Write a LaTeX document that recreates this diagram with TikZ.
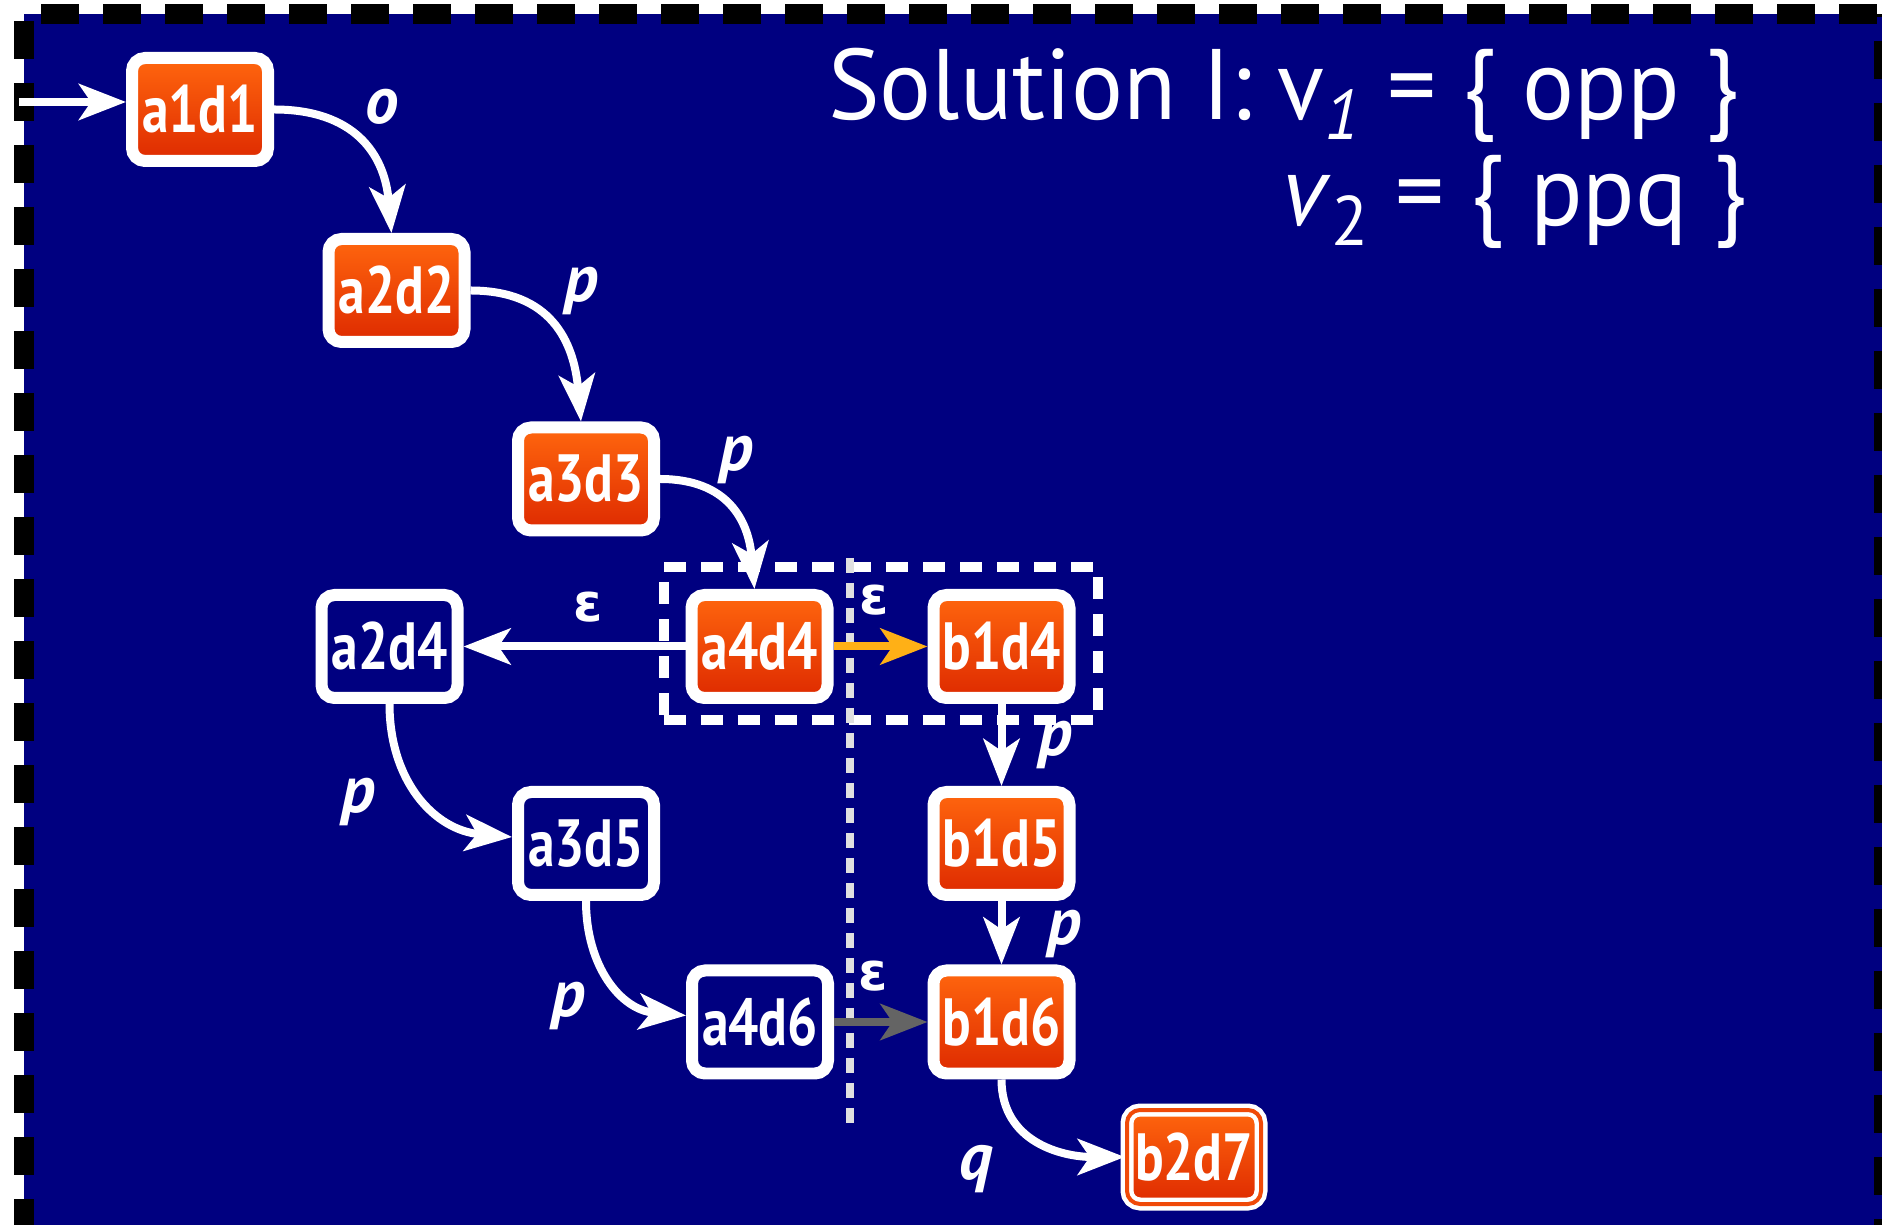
\documentclass[tikz,border=0pt]{standalone}
\usepackage{fontspec}
\setmainfont{PT Sans}
\newfontfamily\cellfamily{PT Sans}[FakeStretch=0.8]
\newfontfamily\titlefamily{PT Sans}[FakeStretch=0.97]
\newfontfamily\epsfamily{DejaVu Sans}
\usetikzlibrary{arrows.meta,fit,positioning}
\definecolor{navybg}{HTML}{000080}
\definecolor{hittop}{HTML}{FF660E}
\definecolor{hitbot}{HTML}{DE2A00}
\definecolor{hitmid}{HTML}{F04A08}
\definecolor{epsgold}{HTML}{FFB016}
\definecolor{epsgrey}{HTML}{646464}
\definecolor{cutgrey}{HTML}{E0E0E0}
\newcommand\cellfont{\cellfamily\bfseries\fontsize{19}{22}\selectfont}
\newcommand\lblfont{\bfseries\itshape\fontsize{19}{22}\selectfont}
\newcommand\epsfont{\epsfamily\bfseries\fontsize{15}{17}\selectfont}
\newcommand\titlefont{\titlefamily\fontsize{28.5}{34}\selectfont}
\tikzset{
  frameline/.style={draw=black,line width=0.2cm,dash pattern=on 0.38cm off 0.24cm},
  cell/.style={draw=white,line width=0.12cm,rounded corners=0.13cm,minimum width=1.36cm,
    minimum height=1.03cm,inner sep=0pt,font=\cellfont,text=white},
  cellhit/.style={cell,top color=hittop,bottom color=hitbot},
  cellend/.style={cellhit,double=hitmid,line width=0.045cm,double distance=0.04cm,
    minimum width=1.34cm,minimum height=0.94cm},
  flow/.style={-{Stealth[length=0.47cm,width=0.36cm,inset=0.12cm]},line width=0.08cm,draw=white},
  lbl/.style={font=\lblfont,text=white,inner sep=0pt},
  eps/.style={font=\epsfont,text=white,inner sep=0pt},
  selbox/.style={draw=white,line width=0.1cm,dash pattern=on 0.22cm off 0.15cm},
  cutline/.style={draw=cutgrey,line width=0.08cm,dash pattern=on 0.15cm off 0.10cm},
  titletext/.style={font=\titlefont,text=white,inner sep=0pt}
}
\begin{document}
\begin{tikzpicture}
  \useasboundingbox (0,0) rectangle (18.82,-12.25);
  \clip (0,0) rectangle (18.82,-12.25);
  % background and frame
  \fill[navybg] (0.24,-0.14) rectangle (19,-13);
  \draw[frameline,dash phase=0.55cm] (0.24,-0.14) -- (0.24,-12.6);
  \draw[frameline,dash phase=0.45cm] (0.24,-0.14) -- (18.84,-0.14);
  \draw[frameline,dash phase=0.35cm] (18.84,-0.14) -- (18.84,-12.6);

  \node[titletext,anchor=base east] (title1) at (17.40,-1.20) {Solution I: v\textsubscript{\itshape 1} = \{ opp \}};
  \node[titletext,anchor=base east] (title2) at (17.48,-2.26) {\textit{v}\textsubscript{2} = \{ ppq \}};

  \begin{scope}[on grid]
    \node[cellhit] (a1d1) at (2.00,-1.095) {a1d1};
    \node[cellhit,below right=1.81cm and 1.965cm of a1d1] (a2d2) {a2d2};
    \node[cellhit,below right=1.885cm and 1.895cm of a2d2] (a3d3) {a3d3};
    \node[cellhit,below right=1.675cm and 1.735cm of a3d3] (a4d4) {a4d4};
    \node[cellhit,right=2.42cm of a4d4] (b1d4) {b1d4};
    \node[cell,left=3.70cm of a4d4] (a2d4) {a2d4};
    \node[cell,below right=1.97cm and 1.965cm of a2d4] (a3d5) {a3d5};
    \node[cellhit,below=1.97cm of b1d4] (b1d5) {b1d5};
    \node[cell,below right=1.785cm and 1.74cm of a3d5] (a4d6) {a4d6};
    \node[cellhit,below=1.785cm of b1d5] (b1d6) {b1d6};
    \node[cellend,below right=1.35cm and 1.925cm of b1d6] (b2d7) {b2d7};
  \end{scope}

  % the pair in question and the cut
  \node[selbox,fit=(a4d4)(b1d4),inner xsep=0.22cm,inner ysep=0.19cm,yshift=0.03cm] (pair) {};
  \coordinate (cuttop) at (8.50,-5.58);
  \coordinate (cutbot) at (8.50,-11.24);
  \draw[cutline] (cuttop) -- (cutbot);

  % transitions
  \coordinate (init) at (0.19,-1.02);
  \draw[flow] (init) -- (init -| a1d1.west);
  \draw[flow] (a1d1) to[out=0,in=95,looseness=1.2] node[lbl,pos=0.4,anchor=south west,xshift=0.14cm,yshift=0.02cm] (lo) {o} (a2d2);
  \draw[flow] (a2d2) to[out=0,in=95,looseness=1.2] node[lbl,pos=0.4,anchor=south west,xshift=0.18cm,yshift=-0.05cm] (lp1) {p} (a3d3);
  \draw[flow] (a3d3) to[out=0,in=95,looseness=1.2] node[lbl,pos=0.4,anchor=south west,xshift=-0.06cm,yshift=0.10cm] (lp2) {p} (a4d4);
  \draw[flow] (a4d4) -- node[eps,pos=0.44,above=0.20cm] (le1) {ε} (a2d4);
  \draw[flow,draw=epsgold] (a4d4) -- node[eps,pos=0.43,above=0.27cm] (le2) {ε} (b1d4);
  \draw[flow] (b1d4) -- node[lbl,pos=0.5,right=0.33cm] (lp3) {p} (b1d5);
  \draw[flow] (b1d5) -- node[lbl,pos=0.52,right=0.42cm] (lp4) {p} (b1d6);
  \draw[flow] (a2d4) to[out=-90,in=175,looseness=1.1] node[lbl,pos=0.4,left=0.31cm,yshift=-0.20cm] (lp5) {p} (a3d5);
  \draw[flow] (a3d5) to[out=-90,in=175,looseness=1.1] node[lbl,pos=0.4,left=0.13cm,yshift=-0.38cm] (lp6) {p} (a4d6);
  \draw[flow,draw=epsgrey] (a4d6) -- node[eps,pos=0.42,above=0.27cm] (le3) {ε} (b1d6);
  \draw[flow] (b1d6) to[out=-90,in=180,looseness=1.1] node[lbl,pos=0.35,anchor=north east,xshift=-0.24cm,yshift=-0.12cm] (lq) {q} (b2d7);
\end{tikzpicture}
\end{document}
